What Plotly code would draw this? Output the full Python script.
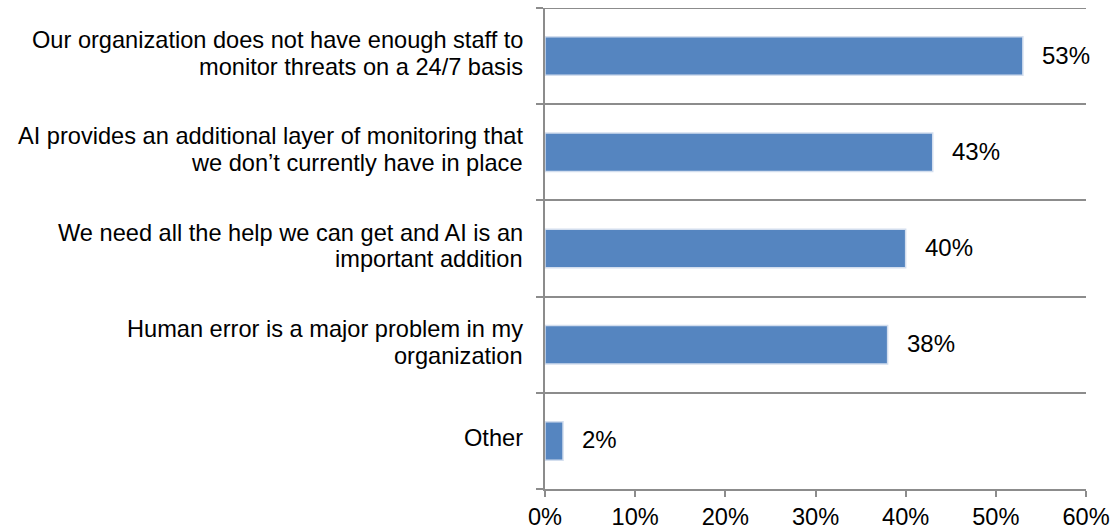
import plotly.graph_objects as go

# Survey reasons, listed top to bottom
categories = [
    "Our organization does not have enough staff to<br>monitor threats on a 24/7 basis",
    "AI provides an additional layer of monitoring that<br>we don\u2019t currently have in place",
    "We need all the help we can get and AI is an<br>important addition",
    "Human error is a major problem in my<br>organization",
    "Other",
]
shares = [53, 43, 40, 38, 2]  # percent of respondents
x_ticks = [0, 10, 20, 30, 40, 50, 60]
x_tick_labels = [f"{v}%" for v in x_ticks]

FONT = "Arial, 'Liberation Sans', sans-serif"
GRID = "#8c8c8c"
BAR = "#5585c0"

positions = list(range(len(categories)))

fig = go.Figure()
fig.add_trace(go.Bar(
    x=shares,
    y=positions,
    orientation="h",
    width=0.4,
    marker=dict(color=BAR, line=dict(color="#d3deee", width=1.5)),
    hoverinfo="skip",
))

annotations = []
# value labels right of each bar
for pos, val in zip(positions, shares):
    annotations.append(dict(
        x=val, y=pos, xref="x", yref="y", text=f"{val}%",
        showarrow=False, xanchor="left", yanchor="middle",
        xshift=17, yshift=1,
        font=dict(family=FONT, size=24, color="#000000"),
    ))

# category labels, one annotation per text line for tighter line spacing
LINE_STEP = 26.7
for pos, label in zip(positions, categories):
    lines = label.split("<br>")
    n = len(lines)
    for k, line in enumerate(lines):
        offset = (k - (n - 1) / 2) * LINE_STEP
        annotations.append(dict(
            x=0, y=pos, xref="paper", yref="y", text=line,
            showarrow=False, xanchor="right", yanchor="middle",
            xshift=-20, yshift=2.5 - offset,
            font=dict(family=FONT, size=23.6, color="#000000"),
        ))

boundaries = [p + 0.5 for p in [-1] + positions]

fig.update_layout(
    width=1114,
    height=532,
    margin=dict(l=545, r=28, t=8, b=43, autoexpand=False),
    paper_bgcolor="white",
    plot_bgcolor="white",
    showlegend=False,
    annotations=annotations,
    xaxis=dict(
        range=[0, 60],
        tickvals=x_ticks,
        ticktext=x_tick_labels,
        showgrid=False,
        zeroline=False,
        showline=True,
        linecolor=GRID,
        linewidth=2,
        ticks="outside",
        ticklen=6,
        tickwidth=1.5,
        tickcolor=GRID,
        tickfont=dict(family=FONT, size=23.6, color="#000000"),
        automargin=False,
        fixedrange=True,
    ),
    yaxis=dict(
        range=[len(categories) - 0.5, -0.5],
        tickvals=boundaries,
        ticktext=["" for _ in boundaries],
        showgrid=True,
        gridcolor=GRID,
        gridwidth=2,
        zeroline=False,
        showline=True,
        linecolor=GRID,
        linewidth=2,
        ticks="outside",
        ticklen=7,
        tickwidth=1.5,
        tickcolor=GRID,
        automargin=False,
        fixedrange=True,
    ),
    shapes=[dict(
        type="line", xref="paper", yref="y",
        x0=-0.013, x1=1, y0=-0.5, y1=-0.5,
        line=dict(color=GRID, width=2),
    )],
)

fig.write_html("out.html")
